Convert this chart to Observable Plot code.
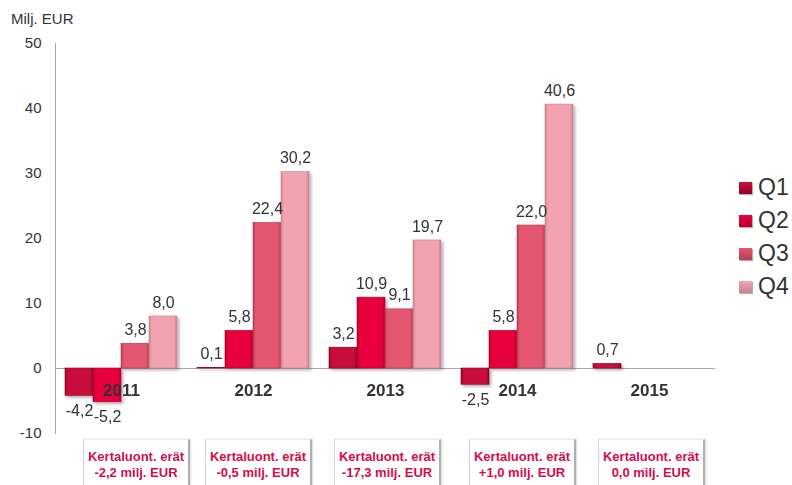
<!DOCTYPE html>
<html><head><meta charset="utf-8">
<script src="https://cdn.jsdelivr.net/npm/d3@7"></script>
<script src="https://cdn.jsdelivr.net/npm/@observablehq/plot@0.6"></script>
<style>
body{margin:0;background:#fff;font-family:"Liberation Sans",Arial,sans-serif;}
#wrap{position:relative;width:792px;height:485px;overflow:hidden;}
#chart{position:absolute;left:0;top:0;}
#unit{position:absolute;left:11px;top:10px;font-size:15px;color:#333;}
#legend{position:absolute;left:739px;top:171px;}
.li{display:flex;align-items:center;height:33px;font-size:23px;color:#333;}
.sw{width:13px;height:12px;margin-right:6px;box-shadow:1px 1px 1px rgba(0,0,0,.3);}
.box{position:absolute;top:439px;width:107px;height:50px;background:#fff;border-top:1px solid #ececec;border-left:1px solid #d0d0d0;border-right:2px solid #b0b0b0;box-shadow:1px 0 2px rgba(0,0,0,.15);text-align:center;font-weight:bold;font-size:13px;color:#d40b4c;line-height:16px;padding-top:9px;box-sizing:border-box;}
g[aria-label="y-axis tick label"]{fill:#333;}
</style>
</head><body>
<div id="wrap">
  <div id="chart"></div>
  <div id="unit">Milj. EUR</div>
  <div id="legend"></div>
</div>
<script>
const years = ["2011","2012","2013","2014","2015"];
const quarters = ["Q1","Q2","Q3","Q4"];
const q1 = [-4.2, 0.1, 3.2, -2.5, 0.7];
const q2 = [-5.2, 5.8, 10.9, 5.8, null];
const q3 = [3.8, 22.4, 9.1, 22.0, null];
const q4 = [8.0, 30.2, 19.7, 40.6, null];
const yTicks = [-10, 0, 10, 20, 30, 40, 50];
const noteTitle = "Kertaluont. erät";
const notes = ["-2,2 milj. EUR", "-0,5 milj. EUR", "-17,3 milj. EUR", "+1,0 milj. EUR", "0,0 milj. EUR"];
const noteLefts = [83, 205, 334, 469, 598];

const colors = {
  Q1: ["#c8103d", "#8e0022"],
  Q2: ["#e8003c", "#b3002d"],
  Q3: ["#e5566f", "#b63c53"],
  Q4: ["#f2a3af", "#c5848e"]
};

const series = [q1, q2, q3, q4];
const data = years.flatMap((y, i) => quarters.map((q, j) => ({year: y, quarter: q, value: series[j][i]})))
  .filter(d => d.value != null);
const fmt = v => v.toFixed(1).replace(".", ",");

const chart = Plot.plot({
  width: 792, height: 485,
  marginLeft: 54, marginRight: 76, marginTop: 43, marginBottom: 52,
  style: {fontFamily: "Liberation Sans, Arial, sans-serif", fontSize: "15px", color: "#a6a6a6", background: "transparent"},
  fx: {domain: years, padding: 0, axis: null, label: null},
  x: {domain: quarters, paddingInner: 0, paddingOuter: 0.343, axis: null},
  y: {domain: [-10, 50], ticks: yTicks, tickSize: 0, tickPadding: 14, tickFormat: d => String(d), line: true, label: null},
  color: {domain: quarters, range: quarters.map(q => `url(#grad-${q})`)},
  marks: [
    Plot.ruleY([0], {stroke: "#a6a6a6", strokeWidth: 1}),
    Plot.barY(data, {fx: "year", x: "quarter", y: "value", fill: "quarter", stroke: d => colors[d.quarter][1], strokeWidth: 0.6}),
    Plot.text(data.filter(d => d.value >= 0), {fx: "year", x: "quarter", y: "value", text: d => fmt(d.value), dy: -14, fontSize: 16, fill: "#333"}),
    Plot.text(data.filter(d => d.value < 0), {fx: "year", x: "quarter", y: "value", text: d => fmt(d.value), dy: 15, fontSize: 16, fill: "#333"}),
    Plot.text(years, {fx: d => d, y: () => 0, text: d => d, dy: 22, fontSize: 17, fontWeight: "bold", fill: "#333"})
  ]
});

const svg = d3.select(chart);
const defs = svg.insert("defs", ":first-child");
for (const q of quarters) {
  const [base, dark] = colors[q];
  const g = defs.append("linearGradient").attr("id", `grad-${q}`).attr("x1", 0).attr("x2", 1).attr("y1", 0).attr("y2", 0);
  g.append("stop").attr("offset", "0%").attr("stop-color", dark);
  g.append("stop").attr("offset", "10%").attr("stop-color", base);
  g.append("stop").attr("offset", "88%").attr("stop-color", base);
  g.append("stop").attr("offset", "100%").attr("stop-color", dark);
}
const f = defs.append("filter").attr("id", "shadow").attr("x", "-20%").attr("y", "-20%").attr("width", "150%").attr("height", "150%");
f.append("feDropShadow").attr("dx", 2).attr("dy", 2).attr("stdDeviation", 1.5).attr("flood-color", "#000").attr("flood-opacity", 0.3);
svg.selectAll('g[aria-label="bar"]').attr("filter", "url(#shadow)");

document.getElementById("chart").appendChild(chart);

const legend = d3.select("#legend");
for (const q of quarters) {
  const [base, dark] = colors[q];
  const row = legend.append("div").attr("class", "li");
  row.append("div").attr("class", "sw").style("background", `linear-gradient(to bottom, ${base}, ${dark})`);
  row.append("span").text(q);
}

const wrap = d3.select("#wrap");
notes.forEach((n, i) => {
  const b = wrap.append("div").attr("class", "box").style("left", noteLefts[i] + "px");
  b.append("div").text(noteTitle);
  b.append("div").text(n);
});
</script>
</body></html>
